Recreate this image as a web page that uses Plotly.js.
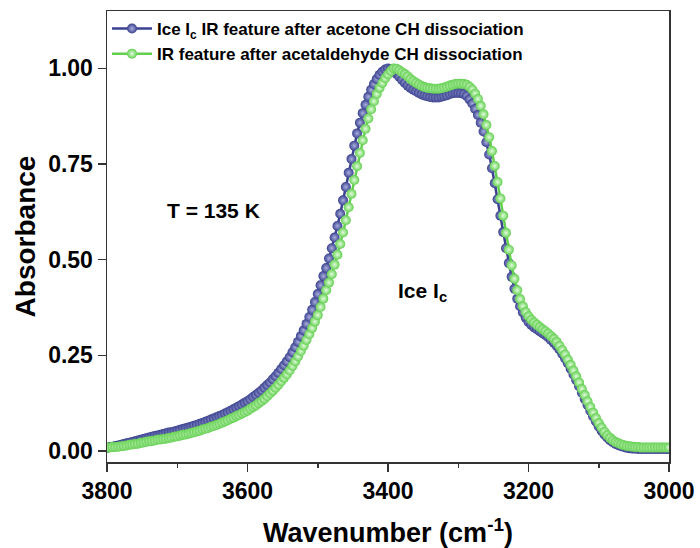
<!DOCTYPE html>
<html>
<head>
<meta charset="utf-8">
<script src="https://cdn.plot.ly/plotly-3.0.1.min.js"></script>
<style>html,body{margin:0;padding:0;background:#fff}#chart{width:700px;height:548px}</style>
</head>
<body>
<div id="chart"></div>
<script>
// Wavenumber (cm^-1)
const wavenumber = [
3800,3796,3792,3788,3784,3780,3776,3772,3768,3764,
3760,3756,3752,3748,3744,3740,3736,3732,3728,3724,
3720,3716,3712,3708,3704,3700,3696,3692,3688,3684,
3680,3676,3672,3668,3664,3660,3656,3652,3648,3644,
3640,3636,3632,3628,3624,3620,3616,3612,3608,3604,
3600,3596,3592,3588,3584,3580,3576,3572,3568,3564,
3560,3556,3552,3548,3544,3540,3536,3532,3528,3524,
3520,3516,3512,3508,3504,3500,3496,3492,3488,3484,
3480,3476,3472,3468,3464,3460,3456,3452,3448,3444,
3440,3436,3432,3428,3424,3420,3416,3412,3408,3404,
3400,3396,3392,3388,3384,3380,3376,3372,3368,3364,
3360,3356,3352,3348,3344,3340,3336,3332,3328,3324,
3320,3316,3312,3308,3304,3300,3296,3292,3288,3284,
3280,3276,3272,3268,3264,3260,3256,3252,3248,3244,
3240,3236,3232,3228,3224,3220,3216,3212,3208,3204,
3200,3196,3192,3188,3184,3180,3176,3172,3168,3164,
3160,3156,3152,3148,3144,3140,3136,3132,3128,3124,
3120,3116,3112,3108,3104,3100,3096,3092,3088,3084,
3080,3076,3072,3068,3064,3060,3056,3052,3048,3044,
3040,3036,3032,3028,3024,3020,3016,3012,3008,3004,
3000];

// Ice Ic IR feature after acetone CH dissociation
const acetoneAbs = [
0.008,0.010,0.011,0.013,0.014,0.016,0.018,0.020,0.021,0.023,
0.025,0.027,0.029,0.031,0.033,0.035,0.037,0.039,0.040,0.042,
0.044,0.046,0.048,0.049,0.051,0.053,0.055,0.057,0.059,0.061,
0.063,0.066,0.068,0.071,0.073,0.076,0.079,0.082,0.085,0.088,
0.091,0.094,0.098,0.101,0.105,0.109,0.113,0.117,0.121,0.126,
0.130,0.135,0.141,0.146,0.152,0.158,0.165,0.172,0.179,0.187,
0.195,0.204,0.214,0.224,0.234,0.245,0.258,0.271,0.285,0.300,
0.315,0.332,0.350,0.369,0.389,0.410,0.433,0.457,0.478,0.503,
0.530,0.558,0.588,0.620,0.655,0.690,0.727,0.763,0.798,0.830,
0.858,0.883,0.905,0.926,0.944,0.959,0.972,0.983,0.991,0.997,
1.000,0.998,0.993,0.986,0.978,0.970,0.962,0.955,0.949,0.944,
0.940,0.936,0.932,0.929,0.927,0.925,0.924,0.924,0.924,0.926,
0.928,0.930,0.933,0.935,0.936,0.936,0.935,0.933,0.928,0.919,
0.908,0.894,0.878,0.858,0.835,0.807,0.775,0.739,0.700,0.658,
0.615,0.572,0.530,0.491,0.455,0.424,0.398,0.378,0.362,0.348,
0.337,0.329,0.323,0.318,0.313,0.308,0.303,0.297,0.290,0.283,
0.275,0.265,0.254,0.242,0.229,0.215,0.200,0.185,0.169,0.152,
0.136,0.120,0.105,0.090,0.077,0.064,0.053,0.043,0.035,0.028,
0.023,0.018,0.015,0.012,0.010,0.008,0.007,0.006,0.006,0.005,
0.005,0.005,0.005,0.005,0.005,0.005,0.005,0.005,0.005,0.005,
0.005];

// IR feature after acetaldehyde CH dissociation
const acetaldehydeAbs = [
0.008,0.009,0.010,0.010,0.011,0.012,0.013,0.014,0.016,0.017,
0.018,0.019,0.021,0.022,0.024,0.025,0.026,0.027,0.029,0.030,
0.031,0.032,0.034,0.035,0.037,0.038,0.040,0.042,0.043,0.045,
0.047,0.049,0.051,0.053,0.056,0.058,0.060,0.063,0.065,0.068,
0.071,0.074,0.077,0.080,0.084,0.087,0.091,0.094,0.098,0.101,
0.105,0.110,0.115,0.119,0.125,0.130,0.136,0.143,0.150,0.157,
0.165,0.173,0.182,0.191,0.200,0.210,0.222,0.234,0.247,0.261,
0.275,0.290,0.305,0.321,0.338,0.355,0.376,0.398,0.420,0.440,
0.462,0.487,0.513,0.541,0.571,0.603,0.637,0.672,0.708,0.744,
0.779,0.812,0.842,0.869,0.893,0.914,0.933,0.949,0.962,0.974,
0.984,0.993,1.000,0.999,0.995,0.990,0.985,0.979,0.972,0.967,
0.962,0.958,0.954,0.951,0.949,0.948,0.947,0.947,0.947,0.948,
0.950,0.952,0.955,0.957,0.959,0.960,0.960,0.959,0.957,0.952,
0.945,0.934,0.920,0.902,0.880,0.852,0.820,0.784,0.745,0.703,
0.660,0.615,0.570,0.526,0.485,0.450,0.420,0.397,0.378,0.363,
0.352,0.343,0.336,0.330,0.324,0.318,0.313,0.307,0.300,0.293,
0.285,0.275,0.264,0.252,0.239,0.225,0.210,0.195,0.179,0.162,
0.146,0.130,0.115,0.100,0.086,0.073,0.061,0.050,0.041,0.034,
0.028,0.023,0.020,0.017,0.015,0.013,0.012,0.011,0.010,0.010,
0.009,0.009,0.009,0.009,0.009,0.009,0.009,0.009,0.009,0.009,
0.009];

const seriesNames = [
  'Ice I<sub>c</sub> IR feature after acetone CH dissociation',
  'IR feature after acetaldehyde CH dissociation'
];
const xTicks = [3800, 3600, 3400, 3200, 3000];
const yTicks = [0, 0.25, 0.5, 0.75, 1.0];

const FONT = 'Liberation Sans, Arial, Helvetica, sans-serif';

const traces = [
  {
    x: wavenumber, y: acetoneAbs, name: seriesNames[0],
    type: 'scatter', mode: 'lines+markers',
    line: {color: '#3a4190', width: 2.5},
    marker: {size: 10, color: '#3a4190', line: {width: 0},
             gradient: {type: 'radial', color: '#aab0dc'}}
  },
  {
    x: wavenumber, y: acetaldehydeAbs, name: seriesNames[1],
    type: 'scatter', mode: 'lines+markers',
    line: {color: '#62d04f', width: 2.5},
    marker: {size: 10, color: '#62d04f', line: {width: 0},
             gradient: {type: 'radial', color: '#e4fbdf'}}
  }
];

const layout = {
  width: 700, height: 548,
  margin: {l: 107, r: 31, t: 11, b: 86},
  paper_bgcolor: '#fff', plot_bgcolor: '#fff',
  font: {family: FONT, color: '#000'},
  showlegend: true,
  legend: {
    x: 0.0, y: 1.0, xanchor: 'left', yanchor: 'top',
    bgcolor: 'rgba(0,0,0,0)',
    font: {family: FONT, size: 17, weight: 'bold', color: '#000'},
    itemwidth: 40, tracegroupgap: 0
  },
  xaxis: {
    range: [3800, 3000],
    tickvals: xTicks, ticktext: xTicks.map(String),
    ticks: 'outside', ticklen: 8, tickwidth: 1.5, tickcolor: '#333',
    minor: {tickvals: [3700, 3500, 3300, 3100], ticks: 'outside', ticklen: 4, tickwidth: 1.5, tickcolor: '#333'},
    showline: true, mirror: true, linecolor: '#333', linewidth: 1.5,
    showgrid: false, zeroline: false,
    tickfont: {family: FONT, size: 23, weight: 'bold', color: '#000'},
    title: {text: 'Wavenumber (cm<sup>-1</sup>)', font: {family: FONT, size: 27, weight: 'bold', color: '#000'}, standoff: 20}
  },
  yaxis: {
    range: [-0.029, 1.15],
    tickvals: yTicks, tickformat: '.2f',
    ticks: 'outside', ticklen: 8, tickwidth: 1.5, tickcolor: '#333',
    showline: true, mirror: true, linecolor: '#333', linewidth: 1.5,
    showgrid: false, zeroline: false,
    tickfont: {family: FONT, size: 23, weight: 'bold', color: '#000'},
    title: {text: 'Absorbance', font: {family: FONT, size: 28, weight: 'bold', color: '#000'}, standoff: 4}
  },
  annotations: [
    {x: 3649, y: 0.629, xref: 'x', yref: 'y', text: 'T = 135 K', showarrow: false,
     font: {family: FONT, size: 21, weight: 'bold', color: '#000'}},
    {x: 3351, y: 0.415, xref: 'x', yref: 'y', text: 'Ice I<sub>c</sub>', showarrow: false,
     font: {family: FONT, size: 21, weight: 'bold', color: '#000'}}
  ]
};

Plotly.newPlot('chart', traces, layout, {displayModeBar: false, staticPlot: true});
</script>
</body>
</html>
